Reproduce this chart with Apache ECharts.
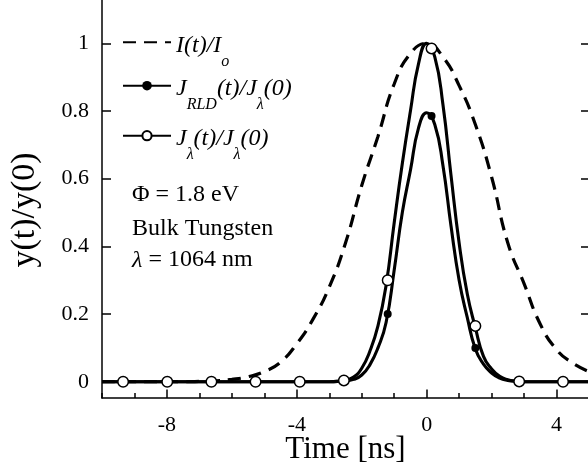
<!DOCTYPE html>
<html><head><meta charset="utf-8">
<script src="https://cdn.jsdelivr.net/npm/echarts@6/dist/echarts.min.js"></script>
<style>html,body{margin:0;padding:0;background:#fff}#c{width:588px;height:469px}</style>
</head><body><div id="c"></div>
<script>
const FONT = 'Liberation Serif';

// Laser intensity I(t)/Io (dashed)
const pulseTime = [-10,-9,-8,-7.5,-7,-6.5,-6,-5.5,-5,-4.5,-4,-3.5,-3,-2.5,-2,-1.5,-1,-0.5,0,0.5,1,1.5,2,2.5,3,3.5,4,4.5,5];
const pulseI    = [0,0,0,0,0.001,0.003,0.007,0.015,0.03,0.058,0.112,0.185,0.28,0.41,0.58,0.725,0.88,0.97,1.0,0.96,0.875,0.76,0.605,0.41,0.29,0.17,0.095,0.055,0.03];

// Current curves (solid)
const curveTime = [-10,-3,-2.75,-2.5,-2.25,-2,-1.75,-1.5,-1.25,-1,-0.75,-0.5,-0.25,0,0.25,0.5,0.75,1,1.25,1.5,1.75,2,2.25,2.5,2.75,3,5];
const jLambda   = [0,0,0.001,0.005,0.014,0.04,0.09,0.165,0.285,0.47,0.645,0.80,0.94,1.0,0.96,0.82,0.61,0.41,0.26,0.16,0.075,0.038,0.016,0.006,0.002,0,0];
const jRld      = [0,0,0.001,0.002,0.007,0.02,0.05,0.10,0.175,0.33,0.50,0.625,0.75,0.795,0.76,0.64,0.46,0.30,0.19,0.097,0.052,0.026,0.011,0.004,0.001,0,0];

// Marker positions
const markerTime    = [-9.35,-7.99,-6.63,-5.27,-3.91,-2.55,-1.2,0.15,1.5,2.85,4.2];
const jLambdaMarker = [0,0,0,0,0,0.004,0.30,0.985,0.165,0.001,0];
const jRldMarker    = [0,0,0,0,0,0.002,0.20,0.785,0.10,0,0];

// Tick labels
const xTickValues = [-8,-4,0,4];
const yTickValues = [0,0.2,0.4,0.6,0.8,1];

const zip = (a,b) => a.map((v,i)=>[v,b[i]]);

const legendText = {
  'I(t)/Io': '{m|I(t)/I}{s|o}',
  'JRLD(t)/Jλ(0)': '{m|J}{s|RLD}{m|(t)/J}{s|λ}{m|(0)}',
  'Jλ(t)/Jλ(0)': '{m|J}{s|λ}{m|(t)/J}{s|λ}{m|(0)}'
};
const legendRich = {
  m:{fontFamily:FONT,fontStyle:'italic',fontSize:24,lineHeight:26,color:'#000',padding:[6,0,0,0]},
  s:{fontFamily:FONT,fontStyle:'italic',fontSize:16,lineHeight:18,color:'#000',padding:[38,0,0,0]}
};
function mkLegend(name, top, itemHeight, itemStyle){
  return {
    show:true, orient:'horizontal', left:122, top:top, padding:0,
    itemWidth:48, itemHeight:itemHeight, itemGap:0, selectedMode:false,
    data:[Object.assign({name:name}, itemStyle?{itemStyle:itemStyle}:{})],
    formatter: n => legendText[n],
    textStyle:{fontFamily:FONT,fontSize:24,color:'#000',rich:legendRich}
  };
}

const axisLineStyle = {color:'#000', width:1.5};
const tickStyle = {color:'#000', width:1.5};
const chart = echarts.init(document.getElementById('c'), null, {renderer:'canvas'});
chart.setOption({
  backgroundColor:'#fff',
  animation:false,
  grid:{left:102, right:-1, top:-2, bottom:71, containLabel:false, outerBoundsMode:'none'},
  xAxis:[
    {type:'value', min:-10, max:5, interval:1, position:'bottom',
     axisLine:{show:true, onZero:false, lineStyle:axisLineStyle},
     axisTick:{show:true, inside:true, length:5, lineStyle:tickStyle},
     axisLabel:{show:true, customValues:xTickValues, margin:16, fontFamily:FONT, fontSize:22, color:'#000'},
     splitLine:{show:false},
     name:'Time [ns]', nameLocation:'middle', nameGap:36, nameMoveOverlap:false,
     nameTextStyle:{fontFamily:FONT, fontSize:31, color:'#000'}},
    {type:'value', min:-10, max:5, position:'bottom',
     axisLine:{show:false, onZero:false},
     axisTick:{show:true, inside:true, length:8.5, customValues:xTickValues, lineStyle:tickStyle},
     axisLabel:{show:false}, splitLine:{show:false}}
  ],
  yAxis:[
    {type:'value', min:-0.048, max:1.134, position:'left',
     axisLine:{show:true, onZero:false, lineStyle:axisLineStyle},
     axisTick:{show:true, inside:true, length:9, customValues:yTickValues, lineStyle:tickStyle},
     axisLabel:{show:true, customValues:yTickValues, margin:13, fontFamily:FONT, fontSize:22, color:'#000'},
     splitLine:{show:false},
     name:'y(t)/y(0)', nameLocation:'middle', nameGap:60, nameRotate:90, nameMoveOverlap:false,
     nameTextStyle:{fontFamily:FONT, fontSize:34, color:'#000', padding:[0,24,0,0]}},
    {type:'value', min:-0.048, max:1.134, position:'right',
     axisLine:{show:true, onZero:false, lineStyle:axisLineStyle},
     axisTick:{show:true, inside:true, length:8, customValues:yTickValues, lineStyle:tickStyle},
     axisLabel:{show:false}, splitLine:{show:false}}
  ],
  legend:[
    mkLegend('I(t)/Io', 15.3, 10, {color:'rgba(0,0,0,0)', borderColor:'rgba(0,0,0,0)', borderWidth:0}),
    mkLegend('JRLD(t)/Jλ(0)', 58.7, 12, {color:'#000', borderColor:'#000', borderWidth:0}),
    mkLegend('Jλ(t)/Jλ(0)', 108.7, 11.5, {color:'#000'})
  ],
  graphic:[
    {type:'text', style:{x:132, y:194.6, text:'Φ = 1.8 eV', font:'24px "Liberation Serif"', fill:'#000', verticalAlign:'middle', textVerticalAlign:'middle'}},
    {type:'text', style:{x:132, y:229.2, text:'Bulk Tungsten', font:'24px "Liberation Serif"', fill:'#000', verticalAlign:'middle', textVerticalAlign:'middle'}},
    {type:'text', style:{x:132, y:260.2, text:'{i|λ}{n| = 1064 nm}', font:'24px "Liberation Serif"', fill:'#000', verticalAlign:'middle', textVerticalAlign:'middle',
      rich:{i:{fontFamily:FONT,fontStyle:'italic',fontSize:24,fill:'#000',color:'#000'}, n:{fontFamily:FONT,fontSize:24,fill:'#000',color:'#000'}}}}
  ],
  series:[
    {name:'I(t)/Io', type:'line', data:zip(pulseTime,pulseI), smooth:0.5, symbol:'none', showSymbol:false,
     lineStyle:{color:'#000', width:3.2, type:[13,8]}, itemStyle:{color:'#000'}, z:2},
    {name:'JRLD(t)/Jλ(0)', type:'line', data:zip(curveTime,jRld), smooth:0.5, symbol:'circle', showSymbol:false,
     lineStyle:{color:'#000', width:3.1}, itemStyle:{color:'#000'}, z:3},
    {name:'Jλ(t)/Jλ(0)', type:'line', data:zip(curveTime,jLambda), smooth:0.5, symbol:'emptyCircle', showSymbol:false,
     lineStyle:{color:'#000', width:3.1}, itemStyle:{color:'#000'}, z:3},
    {name:'rldMarkers', type:'scatter', data:zip(markerTime,jRldMarker), symbol:'circle', symbolSize:8,
     itemStyle:{color:'#000', opacity:1}, z:4},
    {name:'lamMarkers', type:'scatter', data:zip(markerTime,jLambdaMarker), symbol:'circle', symbolSize:10.5,
     itemStyle:{color:'#fff', borderColor:'#000', borderWidth:1.5, opacity:1}, z:5}
  ]
});
</script>
</body></html>
